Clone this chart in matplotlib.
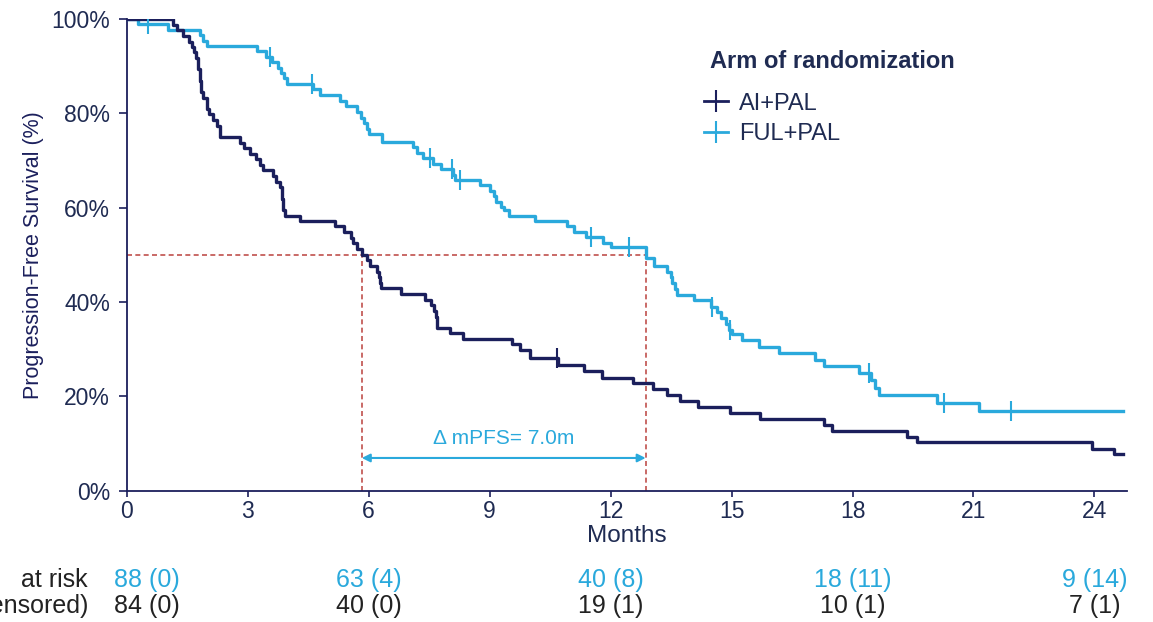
import numpy as np
import matplotlib.pyplot as plt
from matplotlib.lines import Line2D

plt.rcParams['font.family'] = ['Liberation Sans', 'DejaVu Sans']

# Kaplan-Meier steps: event times (months) and survival (%) after each step
ai_t = [0, 1.14, 1.25, 1.4, 1.55, 1.62, 1.68, 1.72, 1.76, 1.82, 1.85, 1.9, 2.0, 2.05,
        2.15, 2.25, 2.31, 2.81, 2.9, 3.05, 3.2, 3.3, 3.37, 3.63, 3.7, 3.8, 3.84, 3.88,
        3.93, 4.3, 5.17, 5.4, 5.55, 5.62, 5.7, 5.83, 5.95, 6.04, 6.2, 6.25, 6.28, 6.3,
        6.79, 7.4, 7.55, 7.62, 7.66, 7.7, 8.02, 8.35, 9.55, 9.75, 10.0, 10.7, 11.33,
        11.79, 12.55, 13.06, 13.4, 13.73, 14.17, 14.97, 15.7, 17.29, 17.5, 19.36, 19.6,
        23.95, 24.48]
ai_s = [100, 98.8, 97.6, 96.4, 95.2, 94.0, 92.9, 91.7, 89.3, 86.9, 84.5, 83.3, 81.0, 79.8,
        78.6, 77.4, 75.0, 73.8, 72.6, 71.4, 70.2, 69.0, 67.9, 66.7, 65.5, 64.3, 61.9, 59.5,
        58.3, 57.1, 56.0, 54.8, 53.6, 52.4, 51.2, 50.0, 48.8, 47.6, 46.4, 45.2, 44.0, 42.9,
        41.7, 40.5, 39.3, 38.1, 36.9, 34.5, 33.3, 32.1, 31.0, 29.8, 28.0, 26.6, 25.3,
        23.9, 22.7, 21.5, 20.3, 18.9, 17.8, 16.5, 15.2, 13.9, 12.7, 11.4, 10.2,
        8.9, 7.7]
ai_censor = [10.67]

ful_t = [0, 0.29, 1.03, 1.82, 1.9, 2.0, 3.22, 3.45, 3.6, 3.75, 3.82, 3.9, 3.97, 4.63,
         4.8, 5.29, 5.45, 5.71, 5.8, 5.88, 5.95, 6.0, 6.33, 7.11, 7.2, 7.35, 7.6, 7.8,
         8.1, 8.15, 8.77, 9.0, 9.1, 9.15, 9.27, 9.35, 9.47, 10.13, 10.92, 11.1, 11.4,
         11.8, 12.0, 12.87, 13.07, 13.4, 13.5, 13.52, 13.6, 13.65, 14.06, 14.5, 14.65,
         14.75, 14.85, 14.93, 15.0, 15.26, 15.67, 16.17, 17.08, 17.3, 18.15, 18.45,
         18.55, 18.65, 20.1, 21.13]
ful_s = [100, 98.9, 97.7, 96.6, 95.4, 94.3, 93.2, 92.0, 90.9, 89.7, 88.6, 87.4, 86.2, 85.1,
         83.9, 82.7, 81.5, 80.3, 79.1, 77.9, 76.7, 75.5, 74.0, 72.8, 71.6, 70.5, 69.3, 68.2,
         67.0, 65.9, 64.7, 63.5, 62.4, 61.2, 60.1, 59.5, 58.3, 57.1, 56.0, 54.8, 53.7,
         52.5, 51.6, 49.4, 47.6, 46.4, 45.2, 44.0, 42.7, 41.5, 40.3, 39.0, 37.8,
         36.5, 35.3, 34.0, 33.2, 31.9, 30.5, 29.1, 27.7, 26.3, 24.9, 23.4,
         21.8, 20.3, 18.6, 16.9]
ful_censor = [0.54, 3.56, 4.6, 7.53, 8.06, 8.27, 11.52, 12.45, 14.52, 14.97, 18.42,
              20.26, 21.92]

last_followup = 24.72
median_ai = 5.83
median_ful = 12.87

risk_times = [0, 6, 12, 18, 24]
ful_risk = ['88 (0)', '63 (4)', '40 (8)', '18 (11)', '9 (14)']
ai_risk = ['84 (0)', '40 (0)', '19 (1)', '10 (1)', '7 (1)']

navy = '#1b1f5c'
cyan = '#2aa9dc'
text_col = '#1f2b52'
red = '#c0504d'

fig = plt.figure(figsize=(11.53, 6.22), dpi=100)
ax = fig.add_axes([0.1099, 0.2114, 0.8673, 0.7581])


def km_curve(t, s, censor, color):
    t = np.asarray(t)
    s = np.asarray(s)
    ax.step(np.append(t, last_followup), np.append(s, s[-1]), where='post',
            color=color, lw=2.4, zorder=3)
    idx = np.searchsorted(t, censor, side='right') - 1
    ax.plot(censor, s[idx], ls='none', marker='|', ms=14, mew=1.5,
            color=color, zorder=4)


# median reference lines
ax.plot([0, median_ful], [50, 50], ls=(0, (3, 2)), color=red, lw=1.2, zorder=2)
ax.plot([median_ai, median_ai], [0, 50], ls=(0, (3, 2)), color=red, lw=1.2, zorder=2)
ax.plot([median_ful, median_ful], [0, 50], ls=(0, (3, 2)), color=red, lw=1.2, zorder=2)

km_curve(ful_t, ful_s, ful_censor, cyan)
km_curve(ai_t, ai_s, ai_censor, navy)

ax.annotate('', xy=(median_ai, 6.9), xytext=(median_ful, 6.9),
            arrowprops=dict(arrowstyle='<|-|>', color=cyan, lw=1.5,
                            mutation_scale=12, shrinkA=0, shrinkB=0))
ax.text((median_ai + median_ful) / 2, 11.0,
        '\u0394 mPFS= %.1fm' % (median_ful - median_ai),
        color=cyan, fontsize=15, ha='center', va='center')

ax.set_xlim(0, 24.8)
ax.set_ylim(0, 100)
ax.set_xticks(np.arange(0, 25, 3))
ax.set_yticks(np.arange(0, 101, 20))
ax.set_yticklabels(['%d%%' % v for v in range(0, 101, 20)])
for side in ['top', 'right']:
    ax.spines[side].set_visible(False)
for side in ['left', 'bottom']:
    ax.spines[side].set_color(navy)
    ax.spines[side].set_linewidth(1.3)
ax.tick_params(colors=navy, labelcolor=text_col, labelsize=16.5, width=1.2,
               direction='out')
ax.tick_params(axis='y', length=6, pad=6)
ax.tick_params(axis='x', length=4, pad=3)
ax.set_xlabel('Months', fontsize=17.5, color=text_col, labelpad=1)
ax.set_ylabel('Progression-Free Survival (%)', fontsize=15.5, color=navy, labelpad=5)

# legend: bold heading plus one entry per arm
fig.text(710 / 1153, 1 - 62 / 622, 'Arm of randomization', fontsize=17,
         fontweight='bold', color=text_col, ha='left', va='center')
handles = [Line2D([], [], color=navy, lw=2, marker='|', ms=16, mew=1.5),
           Line2D([], [], color=cyan, lw=2, marker='|', ms=16, mew=1.5)]
leg = fig.legend(handles, ['AI+PAL', 'FUL+PAL'], loc='center left',
                 bbox_to_anchor=(704 / 1153, 1 - 119 / 622), frameon=False,
                 fontsize=17, handlelength=1.0, handletextpad=0.5,
                 labelspacing=0.38, borderpad=0, borderaxespad=0)
for txt in leg.get_texts():
    txt.set_color(text_col)

# number-at-risk table under the axis
for t, f_lab, a_lab in zip(risk_times, ful_risk, ai_risk):
    x = min(max(t, 0.5), 24.2)
    ax.text(x, -19.0, f_lab, color=cyan, fontsize=18, ha='center', va='center',
            transform=ax.transData, clip_on=False)
    ax.text(x, -24.5, a_lab, color='#222222', fontsize=18, ha='center', va='center',
            transform=ax.transData, clip_on=False)
fig.text(88 / 1153, 1 - 580 / 622, 'at risk', color='#222222', fontsize=18,
         ha='right', va='center')
fig.text(88 / 1153, 1 - 606 / 622, '(number censored)', color='#222222', fontsize=18,
         ha='right', va='center')

fig.savefig('out.png', dpi=100)
